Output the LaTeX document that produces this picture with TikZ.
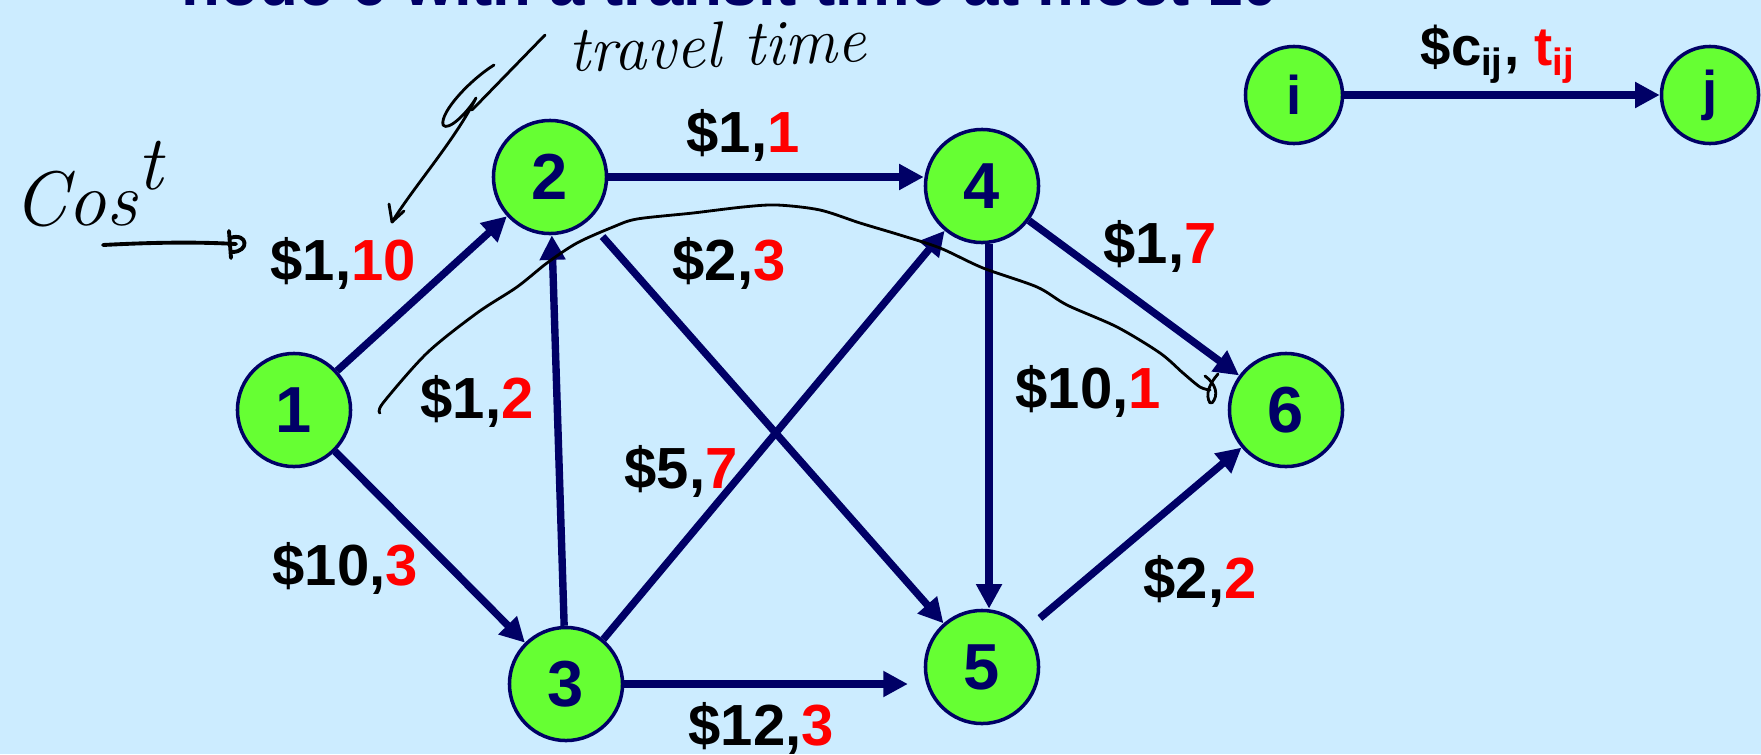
\documentclass[tikz,border=0pt]{standalone}
\usepackage{fontspec}
\newfontfamily\arialfont{Liberation Sans}
\usetikzlibrary{arrows.meta}

\definecolor{navy}{HTML}{000066}
\definecolor{leaf}{HTML}{66FF33}
\definecolor{sky}{HTML}{CCECFF}
\definecolor{tred}{HTML}{FF0000}

% cost in black, travel time in red
\newcommand{\costtime}[2]{\$#1,\textcolor{tred}{#2}}

\begin{document}
\begin{tikzpicture}[x=0.01cm, y=-0.01cm,
    vertex/.style={circle, draw=navy, line width=1pt, fill=leaf, text=navy,
        minimum size=1.13cm, inner sep=0pt,
        font=\arialfont\bfseries\fontsize{18.5}{20}\selectfont},
    small/.style={minimum size=0.97cm, font=\arialfont\bfseries\fontsize{15.5}{18}\selectfont},
    arc/.style={navy, line width=2.1pt, -{Triangle[length=7pt,width=7pt]}},
    weight/.style={inner sep=0pt, anchor=base west,
        font=\arialfont\bfseries\fontsize{16.5}{18}\selectfont},
    ink/.style={black, line width=0.8pt, line cap=round, line join=round},
    hand/.style={inner sep=0pt, anchor=base west, font=\itshape}]

        \useasboundingbox (0,0) rectangle (1761,754);
        \fill[sky] (0,0) rectangle (1761,754);
        \clip (0,0) rectangle (1761,754);

        % Title, cut at the top
        \node[inner sep=0pt, anchor=base west, text=navy,
            font=\arialfont\bfseries\fontsize{18.1}{20}\selectfont] (title) at (181,5)
            {node 6 with a transit time at most 10};

        % Network
        \node[vertex] (n1) at (294,410) {1};
        \node[vertex] (n2) at (550,177) {2};
        \node[vertex] (n3) at (566,684) {3};
        \node[vertex] (n4) at (982,186) {4};
        \node[vertex] (n5) at (982,667) {5};
        \node[vertex] (n6) at (1286,410) {6};

        \foreach \a/\b/\g in {n1/n2/0, n1/n3/0, n3/n2/0, n2/n5/6,
                              n3/n4/0, n4/n6/0, n5/n6/5} {
            \draw[arc, shorten <=\g pt] (\a) -- (\b);
        }
        \draw[arc] (n2) -- (n2 -| n4.west);
        \draw[arc, shorten >=4.5pt] (n3) -- (n3 -| n5.west);
        \draw[arc] ([xshift=2pt]n4.south) -- ([xshift=2pt]n5.north);

        % Arc labels
        \node[weight] (w12) at (270,280) {\costtime{1}{10}};
        \node[weight] (w13) at (272,585) {\costtime{10}{3}};
        \node[weight] (w32) at (420,418) {\costtime{1}{2}};
        \node[weight] (w24) at (686,152) {\costtime{1}{1}};
        \node[weight] (w25) at (672,280) {\costtime{2}{3}};
        \node[weight] (w34) at (624,488) {\costtime{5}{7}};
        \node[weight] (w35) at (688,745) {\costtime{12}{3}};
        \node[weight] (w45) at (1015,408) {\costtime{10}{1}};
        \node[weight] (w46) at (1103,263) {\costtime{1}{7}};
        \node[weight] (w56) at (1143,598) {\costtime{2}{2}};

        % Legend
        \node[vertex, small] (ni) at (1294,95) {i};
        \node[vertex, small] (nj) at (1710,95) {j};
        \draw[arc] (ni) -- (nj);
        \node[inner sep=0pt, anchor=base west,
            font=\arialfont\bfseries\fontsize{15.5}{18}\selectfont] (wij) at (1420,65)
            {\$c\textsubscript{ij}, \textcolor{tred}{t\textsubscript{ij}}};

        % Handwritten notes
        \node[hand, font=\itshape\fontsize{22}{24}\selectfont] (cost) at (13,225)
            {Cos\raisebox{10pt}{t}};
        \draw[ink, line width=1.1pt] (103,245) .. controls (160,242) and (200,242) .. (236,244);
        \draw[ink, line width=1.1pt] (229,231) -- (231,258);
        \draw[ink, line width=1.1pt] (230,238) .. controls (248,232) and (250,252) .. (232,252);

        \node[hand, rotate=2, font=\itshape\fontsize{18.5}{20}\selectfont] (travel) at (569,72)
            {travel time};
        \draw[ink] (545,35) -- (472,110);
        \draw[ink] (494,65) .. controls (470,80) and (440,112) .. (443,125)
            .. controls (448,132) and (468,112) .. (476,98)
            .. controls (455,140) and (415,185) .. (392,222);
        \draw[ink] (392,222) -- (389,204);
        \draw[ink] (392,222) -- (404,211);

        \draw[ink] plot[smooth] coordinates {(380,413) (383,403) (427,353) (477,313)
            (517,287) (547,263) (577,243) (613,227) (637,219) (693,213) (743,207)
            (777,205) (820,210) (860,223) (900,235) (940,248) (983,268) (1037,287)
            (1067,305) (1117,327) (1160,353) (1183,373) (1200,387) (1210,390)};
        \draw[ink] (1205,376) .. controls (1216,384) and (1219,395) .. (1212,403);
        \draw[ink] (1218,374) .. controls (1209,384) and (1205,395) .. (1210,403);

    \end{tikzpicture}
\end{document}
